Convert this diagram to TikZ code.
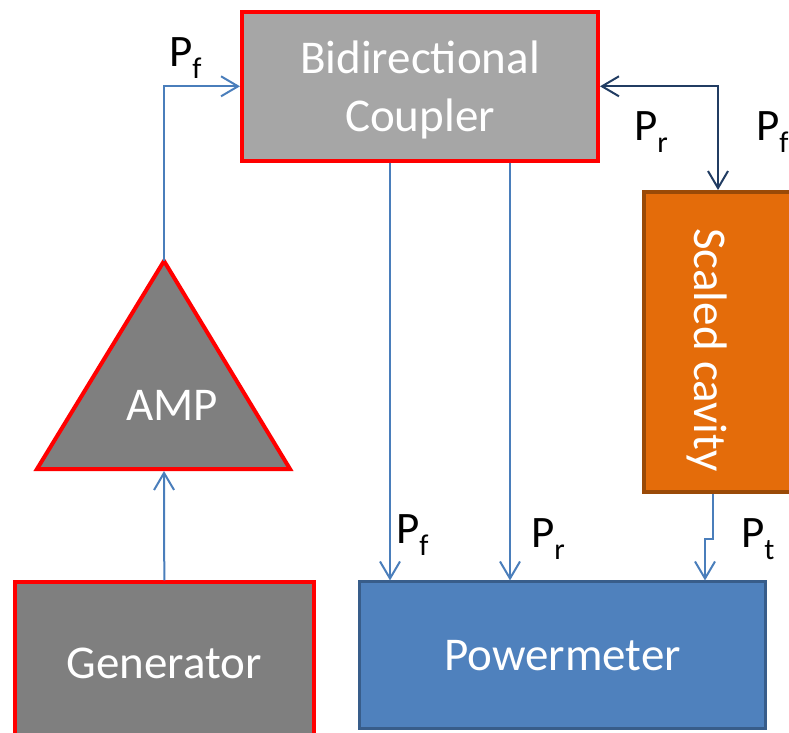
\documentclass[tikz,border=0pt]{standalone}
\usepackage{fontspec}
\setmainfont{Carlito}
\usetikzlibrary{arrows.meta,positioning}

\definecolor{edgered}{HTML}{FF0000}
\definecolor{lightgraybox}{HTML}{A6A6A6}
\definecolor{darkgraybox}{HTML}{7F7F7F}
\definecolor{meterblue}{HTML}{4F81BD}
\definecolor{meteredge}{HTML}{385D8A}
\definecolor{cavityorange}{HTML}{E46C0A}
\definecolor{cavityedge}{HTML}{9A4A07}
\definecolor{linkblue}{HTML}{4A7EBB}
\definecolor{linkdark}{HTML}{213C62}

\newcommand{\pwr}[1]{P\raisebox{-12pt}{\fontsize{30}{30}\selectfont #1}}

\begin{document}
\begin{tikzpicture}[
  x=1pt, y=-1pt,
  block/.style={draw=edgered, line width=4pt, fill=darkgraybox, text=white, align=center, inner sep=0pt, font=\fontsize{47}{58}\selectfont},
  meter/.style={draw=meteredge, line width=3pt, fill=meterblue, text=white, inner sep=0pt, font=\fontsize{47}{58}\selectfont},
  cavity/.style={draw=cavityedge, line width=4pt, fill=cavityorange, inner sep=0pt},
  plabel/.style={anchor=base west, inner sep=0pt, font=\fontsize{45}{50}\selectfont},
  arr/.style={-{Straight Barb[length=17pt,width=20pt]}, line width=2pt, draw=linkblue},
  darr/.style={{Straight Barb[length=17pt,width=20pt]}-{Straight Barb[length=17pt,width=20pt]}, line width=2pt, draw=linkdark}
]
  \clip (0,0) rectangle (789,732);

  % boxes
  \node[block, fill=lightgraybox, minimum width=356pt, minimum height=148.5pt] (coupler) at (420,86.3) {\rule{0pt}{40pt}Bidirectional\\Coupler};
  \node[block, minimum width=299pt, minimum height=162.5pt] (generator) at (164.3,663.7) {Generator};
  \node[meter, minimum width=406pt, minimum height=146.5pt] (powermeter) at (562.5,655.2) {Powermeter};
  \node[cavity, minimum width=148pt, minimum height=300pt] (cavity) at (718,342) {};
  \node[rotate=-90, text=white, inner sep=0pt, font=\fontsize{47}{58}\selectfont] (cavitytext) at (707,350) {Scaled cavity};

  % amplifier
  \draw[draw=edgered, line width=4pt, fill=darkgraybox, line join=miter] (164,261) -- (290,469) -- (37,469) -- cycle;
  \coordinate (amptop) at (164,261);
  \coordinate (ampbase) at (164,471);
  \node[text=white, anchor=base, inner sep=0pt, font=\fontsize{47}{58}\selectfont] (amp) at (172,420) {AMP};

  % connectors
  \draw[arr] (generator.north) -- (ampbase);
  \draw[arr] (amptop) |- (coupler.west);
  \draw[darr] (coupler.east) -| (cavity.north);
  \draw[arr] (coupler.south -| 390,0) -- (powermeter.north -| 390,0);
  \draw[arr] (coupler.south -| 510,0) -- (powermeter.north -| 510,0);
  \coordinate (jog) at (705,539);
  \draw[arr] ([xshift=-5pt]cavity.south) |- (jog) -- (jog |- powermeter.north);

  % labels
  \node[plabel] (pfin) at (169,66) {\pwr{f}};
  \node[plabel] (prtop) at (634,140) {\pwr{r}};
  \node[plabel] (pftop) at (756,140) {\pwr{f}};
  \node[plabel] (pfmeter) at (396,543) {\pwr{f}};
  \node[plabel] (prmeter) at (531,547) {\pwr{r}};
  \node[plabel] (ptmeter) at (741,547) {\pwr{t}};
\end{tikzpicture}
\end{document}
